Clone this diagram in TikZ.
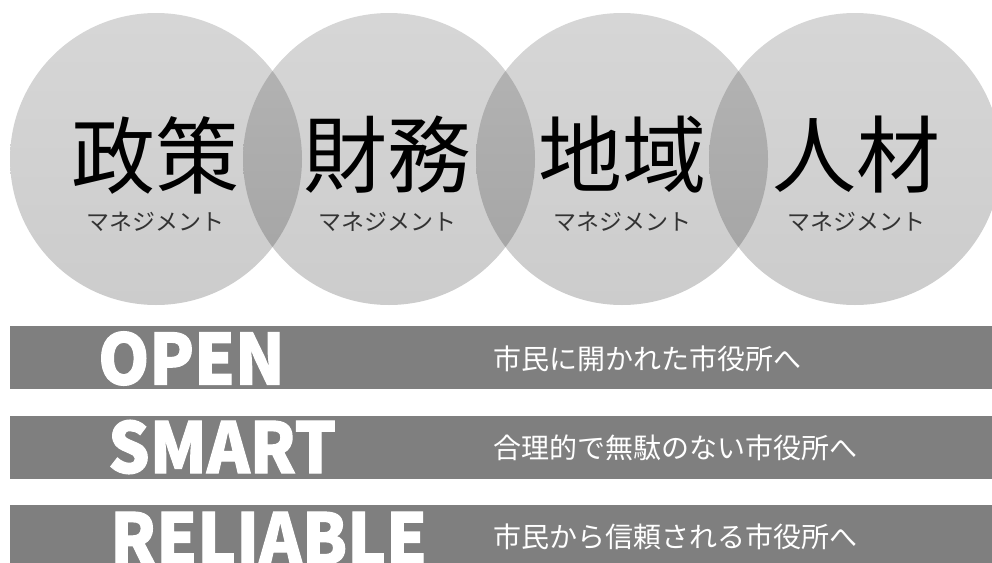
\documentclass[tikz,border=0pt]{standalone}
\usepackage{fontspec}
\setmainfont{Noto Sans CJK JP}
\newfontfamily\jpfont{Noto Sans CJK JP}
\newfontfamily\enfont{Noto Sans CJK JP}[BoldFeatures={FakeBold=1.5,FakeStretch=0.93}]
\definecolor{bargray}{HTML}{7F7F7F}
\definecolor{subgray}{HTML}{333333}
\begin{document}
\begin{tikzpicture}[x=1pt,y=-1pt,
  circ/.style={circle, minimum size=292pt, inner sep=0pt, draw=none,
    top color=black!80, bottom color=black, fill opacity=0.2},
  bigtxt/.style={inner sep=0pt, text=black, font=\jpfont\fontsize{84}{84}\selectfont},
  subtxt/.style={inner sep=0pt, text=subgray, font=\jpfont\fontsize{23}{23}\selectfont},
  barbox/.style={anchor=north west, minimum width=982pt, minimum height=63pt, inner sep=0pt, fill=bargray, draw=none},
  entxt/.style={anchor=west, inner sep=0pt, text=white, font=\enfont\bfseries\fontsize{70}{70}\selectfont},
  jptxt/.style={anchor=west, inner sep=0pt, text=white, font=\jpfont\fontsize{28}{28}\selectfont}]
\useasboundingbox (0,0) rectangle (992,562);
\clip (0,0) rectangle (992,562);
% circles
\node[circ] (c1) at (156,159) {};
\node[circ] (c2) at (389,159) {};
\node[circ] (c3) at (622,159) {};
\node[circ] (c4) at (855,159) {};
% circle labels
\node[bigtxt] (t1) at (155,155) {政策};
\node[bigtxt] (t2) at (387,155) {財務};
\node[bigtxt] (t3) at (622,155) {地域};
\node[bigtxt] (t4) at (856,155) {人材};
\node[subtxt] (s1) at (155,222) {マネジメント};
\node[subtxt] (s2) at (387,222) {マネジメント};
\node[subtxt] (s3) at (622,222) {マネジメント};
\node[subtxt] (s4) at (856,222) {マネジメント};
% bars
\node[barbox] (b1) at (10,326) {};
\node[barbox] (b2) at (10,416) {};
\node[barbox] (b3) at (10,505) {};
\node[entxt] (e1) at (98,358.5) {OPEN};
\node[entxt] (e2) at (108,447) {SMART};
\node[entxt] (e3) at (110,538) {RELIABLE};
\node[jptxt] (j1) at (493,359) {市民に開かれた市役所へ};
\node[jptxt] (j2) at (493,448) {合理的で無駄のない市役所へ};
\node[jptxt] (j3) at (493,537) {市民から信頼される市役所へ};
\end{tikzpicture}
\end{document}
